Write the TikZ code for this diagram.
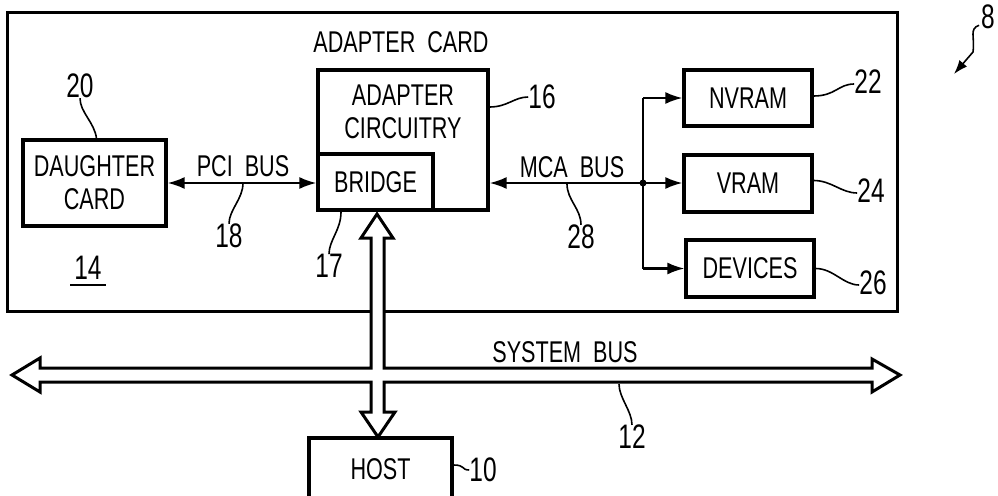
\documentclass[tikz,border=0pt]{standalone}
\usepackage{fontspec}
\setmainfont{Liberation Sans}[FakeStretch=0.72]
\usetikzlibrary{arrows.meta}
\begin{document}
\begin{tikzpicture}[x=1pt,y=-1pt,
  box/.style={draw,line width=3.2pt,inner sep=0pt,align=center,font=\fontsize{30}{33}\selectfont},
  txt/.style={inner sep=0pt,align=center,font=\fontsize{30}{33}\selectfont},
  num/.style={inner sep=0pt,font=\fontsize{34}{36}\selectfont},
  bus/.style={line width=2.2pt},
  tip/.style={-{Latex[length=17pt,width=12pt]}},
  tips/.style={{Latex[length=17pt,width=12pt]}-{Latex[length=17pt,width=12pt]}},
  lead/.style={line width=1.6pt}]
\useasboundingbox (0,0) rectangle (998,495);
% adapter card outline
\node[draw,line width=3pt,minimum width=890pt,minimum height=298pt] (card) at (452,162) {};
\node[txt] (cardt) at (401,42) {ADAPTER\ \ CARD};
\node[num] (n14) at (88,268) {14};
\draw[line width=1.8pt] ([xshift=-4pt,yshift=-5pt]n14.south west) -- ([xshift=4pt,yshift=-5pt]n14.south east);
% boxes
\node[box,minimum width=143pt,minimum height=86pt] (dc) at (94.5,183) {DAUGHTER\\CARD};
\node[box,minimum width=170pt,minimum height=140pt] (adc) at (403,140) {};
\node[txt] (adct) at (403,112) {ADAPTER\\CIRCUITRY};
\node[box,minimum width=115pt,minimum height=56pt] (br) at (375.5,182) {BRIDGE};
\node[box,minimum width=128pt,minimum height=56pt] (nv) at (748,98) {NVRAM};
\node[box,minimum width=128pt,minimum height=57pt] (vr) at (748,183.5) {VRAM};
\node[box,minimum width=128pt,minimum height=57pt] (dev) at (750,268.5) {DEVICES};
\node[box,minimum width=143pt,minimum height=62pt] (host) at (380.5,469) {HOST};
% PCI bus
\draw[bus,tips] (dc.east) -- (dc.east -| br.west);
\node[txt] (pci) at (243,166) {PCI\ \ BUS};
% MCA bus
\coordinate (j) at (643,183);
\draw[bus,tip] (j) -- (adc.east |- j);
\draw[bus,tip] (j) -- (vr.west |- j);
\draw[bus] (j |- nv.west) -- (j |- dev.west);
\draw[bus,tip] (j |- nv.west) -- (nv.west);
\draw[bus,tip] (j |- dev.west) -- (dev.west);
\fill (j) circle (3.5pt);
\node[txt] (mca) at (572,167) {MCA\ \ BUS};
% hollow buses (cross shape)
\coordinate (ut) at (377,214);
\coordinate (dt) at (378,437);
\coordinate (lt) at (12,375);
\coordinate (rt) at (900,375);
\draw[line width=3pt,fill=white,line join=miter]
  (ut) -- (393,238) -- (384,238) -- (384,368) -- (872,368) -- (872,359) -- (rt)
  -- (872,392) -- (872,382) -- (384,382) -- (384,412) -- (395,412) -- (dt)
  -- (361,412) -- (371,412) -- (371,382) -- (40,382) -- (40,392) -- (lt)
  -- (40,358) -- (40,368) -- (371,368) -- (371,238) -- (361,238) -- cycle;
\node[txt] (sys) at (565,352) {SYSTEM\ \ BUS};
% reference numerals
\node[num] (n20) at (80,86) {20};
\draw[lead] (n20.south) .. controls +(0,14) and +(-2,-16) .. ([xshift=2pt]dc.north);
\node[num] (n18) at (229,236) {18};
\draw[lead] (243,183) .. controls +(0,16) and +(0,-14) .. (n18.north);
\node[num] (n17) at (329,266) {17};
\draw[lead] (341,212) .. controls +(0,18) and +(0,-14) .. (n17.north);
\node[num] (n16) at (542,97) {16};
\draw[lead] ([yshift=33pt]adc.east) .. controls +(18,0) and +(-14,0) .. (n16.west);
\node[num] (n28) at (581,237) {28};
\draw[lead] (567,184) .. controls +(0,16) and +(0,-16) .. (n28.north);
\node[num] (n22) at (868,82) {22};
\draw[lead] ([yshift=2pt]nv.east) .. controls +(22,0) and +(-16,0) .. ([yshift=-2pt]n22.west);
\node[num] (n24) at (871,191) {24};
\draw[lead] ([yshift=3pt]vr.east) .. controls +(18,0) and +(-16,0) .. ([yshift=-2pt]n24.west);
\node[num] (n26) at (873,283) {26};
\draw[lead] (dev.east) .. controls +(18,0) and +(-16,0) .. ([yshift=-2pt]n26.west);
\node[num] (n12) at (632,437) {12};
\draw[lead] (619,384) .. controls +(0,14) and +(0,-14) .. (n12.north);
\node[num] (n10) at (483,470) {10};
\draw[lead] ([yshift=4pt]host.east) .. controls +(12,0) and +(-8,0) .. (n10.west);
\node[num] (n8) at (988,17) {8};
\coordinate (a8) at (954,74);
\draw[lead,-{Latex[length=14pt,width=10pt]}] ([xshift=-2pt,yshift=4pt]n8.south west) .. controls +(-10,4) and +(2,-16) .. (973,52) -- (a8);
\end{tikzpicture}
\end{document}
